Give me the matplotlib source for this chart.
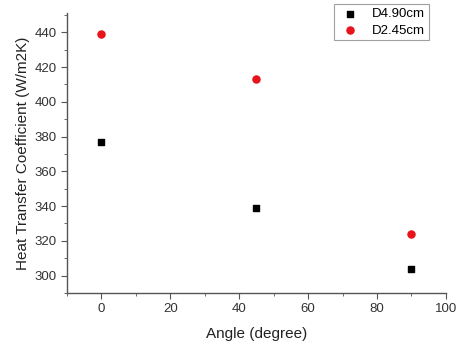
import matplotlib
matplotlib.use("Agg")
import matplotlib.pyplot as plt
from matplotlib.ticker import MultipleLocator

plt.rcParams['font.family'] = ['Liberation Sans', 'DejaVu Sans']

angles = [0, 45, 90]
d490 = [377, 339, 304]
d245 = [439, 413, 324]

fig = plt.figure(figsize=(4.57, 3.45), dpi=100)
ax = fig.add_axes([0.1466, 0.1507, 0.829, 0.811])
ax.scatter(angles, d490, marker='s', s=22, color='black', label='D4.90cm', zorder=3)
ax.scatter(angles, d245, marker='o', s=26, color='#e8141c', label='D2.45cm', zorder=3)

ax.set_xlim(-10, 100)
ax.set_ylim(290, 451)
ax.xaxis.set_major_locator(MultipleLocator(20))
ax.xaxis.set_minor_locator(MultipleLocator(10))
ax.yaxis.set_major_locator(MultipleLocator(20))
ax.yaxis.set_minor_locator(MultipleLocator(10))
for s in ['top', 'right']:
    ax.spines[s].set_visible(False)
for s in ['left', 'bottom']:
    ax.spines[s].set_color('#555555')
    ax.spines[s].set_linewidth(1.0)
ax.tick_params(which='major', direction='out', length=4, color='#555555', labelsize=9.5, labelcolor='#333333')
ax.tick_params(which='minor', direction='out', length=2, color='#555555')
ax.set_xlabel('Angle (degree)', fontsize=11, color='#222222', labelpad=8)
ax.set_ylabel('Heat Transfer Coefficient (W/m2K)', fontsize=11, color='#222222', labelpad=3)

leg = ax.legend(loc='upper right', bbox_to_anchor=(0.973, 1.056), frameon=True, fancybox=False,
                fontsize=9.5, handletextpad=0.7, borderpad=0.3, labelspacing=0.3,
                handlelength=1.9, edgecolor='#888888')
leg.get_frame().set_linewidth(0.8)

fig.savefig('out.png', dpi=100)
